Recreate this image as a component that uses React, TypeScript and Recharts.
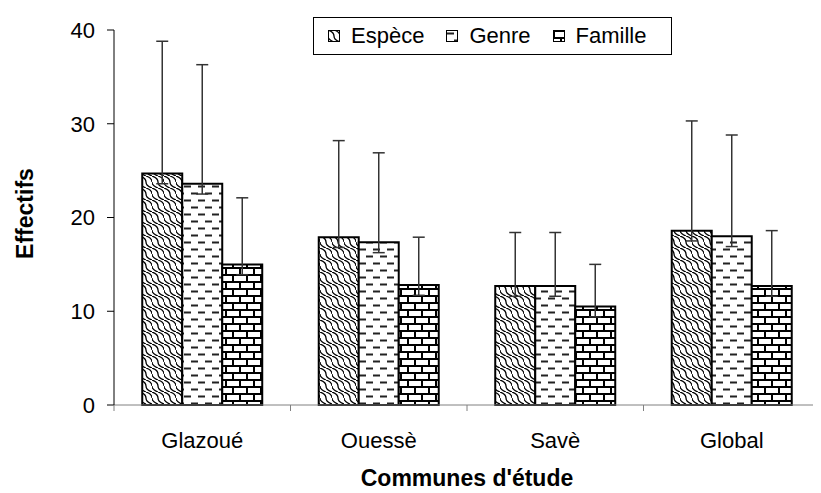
import React from 'react'
import { BarChart, Bar, XAxis, YAxis, ErrorBar } from 'recharts'

const communes = ['Glazoué', 'Ouessè', 'Savè', 'Global']
const espece = [24.7, 17.9, 12.7, 18.6]
const genre = [23.6, 17.35, 12.7, 18.0]
const famille = [15.0, 12.8, 10.5, 12.7]
// ecart-type (partie haute de la barre d'erreur)
const especeSd = [14.1, 10.3, 5.7, 11.7]
const genreSd = [12.7, 9.55, 5.7, 10.8]
const familleSd = [7.1, 5.1, 4.5, 5.9]
const lowStub = 1.1
const yTicks = [0, 10, 20, 30, 40]

const data = communes.map((name, i) => ({
  name,
  espece: espece[i],
  genre: genre[i],
  famille: famille[i],
  especeErr: [lowStub, especeSd[i]],
  genreErr: [lowStub, genreSd[i]],
  familleErr: [lowStub, familleSd[i]],
}))

const W = 813
const H = 485
const LEFT = 106
const RIGHT = 1
const BAND = (W - LEFT - RIGHT) / communes.length
const FONT = '"Liberation Sans", Arial, sans-serif'
const TICK_SIZE = 22

function Patterns() {
  return (
    <svg width={0} height={0} style={{ position: 'absolute' }}>
      <defs>
        <pattern id="pEsp" width={12} height={12} patternUnits="userSpaceOnUse">
          <rect width={12} height={12} fill="#fff" />
          <path
            d="M0,0 Q6,2 6,6 Q6,10 12,12 M6,0 Q12,2 12,6 M0,6 Q0,10 6,12"
            fill="none"
            stroke="#000"
            strokeWidth={1.3}
          />
        </pattern>
        <pattern id="pGen" width={14} height={14} patternUnits="userSpaceOnUse">
          <rect width={14} height={14} fill="#fff" />
          <path d="M1,3.5 H8 M8,10.5 H14 M0,10.5 H1" stroke="#222" strokeWidth={2} />
        </pattern>
        <pattern id="pFam" width={14} height={14} patternUnits="userSpaceOnUse">
          <rect width={14} height={14} fill="#fff" />
          <path d="M0,1 H14 M0,8 H14 M1,0 V8 M8,8 V14" stroke="#000" strokeWidth={2} />
        </pattern>
      </defs>
    </svg>
  )
}

function CategoryTick(props: any) {
  const { x, y, payload, index } = props
  const axisY = y - 14
  const left = x - BAND / 2
  return (
    <g>
      <line x1={left} y1={axisY} x2={left} y2={axisY + 6} stroke="#808080" />
      {index === communes.length - 1 && (
        <line x1={x + BAND / 2} y1={axisY} x2={x + BAND / 2} y2={axisY + 6} stroke="#808080" />
      )}
      <text x={x} y={axisY + 43} textAnchor="middle" fill="#000" fontSize={TICK_SIZE} fontFamily={FONT}>
        {payload.value}
      </text>
    </g>
  )
}

function XTitle(props: any) {
  const { viewBox } = props
  return (
    <text
      x={viewBox.x + viewBox.width / 2}
      y={478}
      textAnchor="middle"
      fontSize={23}
      fontWeight="bold"
      fontFamily={FONT}
      fill="#000"
    >
      Communes d'étude
    </text>
  )
}

function YTitle(props: any) {
  const { viewBox } = props
  const cx = 25
  const cy = viewBox.y + viewBox.height / 2 - 4
  return (
    <text
      x={cx}
      y={cy}
      transform={`rotate(-90, ${cx}, ${cy})`}
      textAnchor="middle"
      fontSize={23}
      fontWeight="bold"
      fontFamily={FONT}
      fill="#000"
    >
      Effectifs
    </text>
  )
}

const legendItems = [
  { label: 'Espèce', fill: 'url(#pEsp)' },
  { label: 'Genre', fill: 'url(#pGen)' },
  { label: 'Famille', fill: 'url(#pFam)' },
]

function LegendBox() {
  return (
    <div
      style={{
        position: 'absolute',
        left: 305,
        top: 9,
        width: 359,
        height: 38,
        boxSizing: 'border-box',
        border: '1px solid #000',
        background: '#fff',
        display: 'flex',
        alignItems: 'center',
        paddingLeft: 14,
        gap: 22,
        fontFamily: FONT,
        fontSize: TICK_SIZE,
      }}
    >
      {legendItems.map((it) => (
        <div key={it.label} style={{ display: 'flex', alignItems: 'center', gap: 11 }}>
          <svg width={12} height={12}>
            <rect x={0.5} y={0.5} width={11} height={11} fill={it.fill} stroke="#000" />
          </svg>
          <span>{it.label}</span>
        </div>
      ))}
    </div>
  )
}

export default function App() {
  return (
    <div style={{ position: 'relative', width: W, height: H, background: '#fff' }}>
      <Patterns />
      <BarChart
        width={W}
        height={H}
        data={data}
        margin={{ top: 22, right: RIGHT, bottom: 0, left: 0 }}
        barCategoryGap="16%"
        barGap={0}
      >
        <XAxis
          dataKey="name"
          height={88}
          axisLine={{ stroke: '#808080' }}
          tickLine={false}
          tickMargin={8}
          tick={<CategoryTick />}
          interval={0}
          label={<XTitle />}
        />
        <YAxis
          width={LEFT}
          domain={[0, 40]}
          ticks={yTicks}
          interval={0}
          axisLine={{ stroke: '#000' }}
          tickLine={{ stroke: '#000' }}
          tickSize={7}
          tickMargin={12}
          tick={{ fill: '#000', fontSize: TICK_SIZE, fontFamily: FONT }}
          label={<YTitle />}
        />
        <Bar dataKey="espece" fill="url(#pEsp)" stroke="#000" strokeWidth={2} isAnimationActive={false}>
          <ErrorBar dataKey="especeErr" width={6} stroke="#333" strokeWidth={1.5} />
        </Bar>
        <Bar dataKey="genre" fill="url(#pGen)" stroke="#000" strokeWidth={2} isAnimationActive={false}>
          <ErrorBar dataKey="genreErr" width={6} stroke="#333" strokeWidth={1.5} />
        </Bar>
        <Bar dataKey="famille" fill="url(#pFam)" stroke="#000" strokeWidth={2} isAnimationActive={false}>
          <ErrorBar dataKey="familleErr" width={6} stroke="#333" strokeWidth={1.5} />
        </Bar>
      </BarChart>
      <LegendBox />
    </div>
  )
}
